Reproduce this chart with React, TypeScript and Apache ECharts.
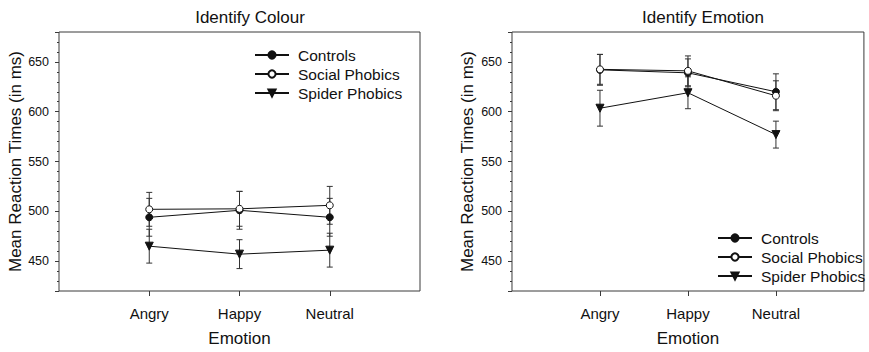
import React, { useEffect, useRef } from "react";
import * as echarts from "echarts";

const emotions = ["Angry", "Happy", "Neutral"];
const groups = ["Controls", "Social Phobics", "Spider Phobics"];

// Identify Colour panel
const colourControls = [494, 501, 494];
const colourControlsErr = [19, 19, 19];
const colourSocial = [502, 502.5, 506];
const colourSocialErr = [17, 17.5, 19];
const colourSpider = [465, 457, 461];
const colourSpiderErr = [17, 14.5, 17];

// Identify Emotion panel
const emotionControls = [642, 639, 620];
const emotionControlsErr = [15.5, 14, 18];
const emotionSocial = [642.5, 641, 616];
const emotionSocialErr = [15, 15, 15];
const emotionSpider = [603.5, 619, 577];
const emotionSpiderErr = [18, 16, 13.5];

const yMin = 420;
const yMax = 680;

const FONT = "'Liberation Sans', Arial, Helvetica, sans-serif";
const INK = "#111";
const AXIS = "#3a3a3a";

const symbols = ["circle", "circle", "path://M0,0 L10,0 L5,9 Z"];
const symbolSizes = [7, 7, 8];

export default function App() {
  const ref = useRef<HTMLDivElement>(null);

  useEffect(() => {
    if (!ref.current) return;
    const chart = echarts.init(ref.current, null, { renderer: "svg" });

    const xData = ["", ...emotions, " "];
    const grids = [
      { left: 59, top: 32, width: 361, height: 265 },
      { left: 512, top: 32, width: 360, height: 265 },
    ];

    const panelData = [
      [
        [colourControls, colourControlsErr],
        [colourSocial, colourSocialErr],
        [colourSpider, colourSpiderErr],
      ],
      [
        [emotionControls, emotionControlsErr],
        [emotionSocial, emotionSocialErr],
        [emotionSpider, emotionSpiderErr],
      ],
    ];

    const xAxes: any[] = [];
    const yAxes: any[] = [];
    const series: any[] = [];

    grids.forEach((_, gi) => {
      xAxes.push({
        type: "category",
        gridIndex: gi,
        data: xData,
        boundaryGap: false,
        name: "Emotion",
        nameLocation: "middle",
        nameGap: 39,
        nameTextStyle: { fontFamily: FONT, fontSize: 17, color: INK },
        axisLine: { show: false },
        axisTick: {
          show: true,
          length: 5,
          interval: (idx: number) => idx >= 1 && idx <= 3,
          lineStyle: { color: AXIS },
        },
        axisLabel: {
          interval: 0,
          margin: 15,
          fontFamily: FONT,
          fontSize: 15,
          color: INK,
        },
        splitLine: { show: false },
      });
      // major y axis
      yAxes.push({
        type: "value",
        gridIndex: gi,
        position: "left",
        min: yMin,
        max: yMax,
        splitNumber: 5,
        name: "Mean Reaction Times (in ms)",
        nameLocation: "middle",
        nameGap: gi === 0 ? 35 : 36,
        nameTextStyle: { fontFamily: FONT, fontSize: 17, color: INK },
        axisLine: { show: false },
        axisTick: { show: true, length: 4, lineStyle: { color: AXIS } },
        axisLabel: {
          margin: 10,
          fontFamily: FONT,
          fontSize: 12.5,
          color: INK,
          formatter: (v: number) => (v % 50 === 0 ? String(v) : ""),
        },
        splitLine: { show: false },
      });
      // minor y axis
      yAxes.push({
        type: "value",
        gridIndex: gi,
        position: "left",
        min: yMin,
        max: yMax,
        interval: 10,
        axisLine: { show: false },
        axisTick: { show: true, length: 2, lineStyle: { color: AXIS } },
        axisLabel: { show: false },
        splitLine: { show: false },
      });

      const yIdx = gi * 2;
      panelData[gi].forEach(([vals, errs], si) => {
        series.push({
          type: "custom",
          name: groups[si] + " error",
          xAxisIndex: gi,
          yAxisIndex: yIdx,
          z: 1,
          silent: true,
          data: vals.map((v, i) => [i + 1, v - errs[i], v + errs[i]]),
          encode: { x: 0, y: [1, 2] },
          renderItem: (params: any, api: any) => {
            const lo = api.coord([api.value(0), api.value(1)]);
            const hi = api.coord([api.value(0), api.value(2)]);
            const w = 3;
            const style = { stroke: "#333", lineWidth: 1 };
            return {
              type: "group",
              children: [
                { type: "line", shape: { x1: lo[0], y1: lo[1], x2: hi[0], y2: hi[1] }, style },
                { type: "line", shape: { x1: lo[0] - w, y1: lo[1], x2: lo[0] + w, y2: lo[1] }, style },
                { type: "line", shape: { x1: hi[0] - w, y1: hi[1], x2: hi[0] + w, y2: hi[1] }, style },
              ],
            };
          },
        });
        series.push({
          type: "line",
          name: groups[si],
          xAxisIndex: gi,
          yAxisIndex: yIdx,
          z: 3,
          data: vals.map((v, i) => [i + 1, v]),
          symbol: symbols[si],
          symbolSize: symbolSizes[si],
          showSymbol: true,
          lineStyle: { color: INK, width: 1 },
          itemStyle: {
            color: si === 1 ? "#fff" : INK,
            borderColor: INK,
            borderWidth: 1,
          },
        });
      });
    });

    const legendCommon = {
      orient: "vertical",
      data: groups,
      padding: 0,
      itemWidth: 34,
      itemHeight: 9,
      itemGap: 3,
      selectedMode: false,
      textStyle: { fontFamily: FONT, fontSize: 15.5, color: INK, padding: [0, 0, 0, 4] },
    };

    chart.setOption({
      animation: false,
      backgroundColor: "#fff",
      title: [
        {
          text: "Identify Colour",
          left: 245,
          top: 4,
          textAlign: "center",
          textStyle: { fontFamily: FONT, fontSize: 17, fontWeight: "normal", color: INK },
        },
        {
          text: "Identify Emotion",
          left: 698,
          top: 4,
          textAlign: "center",
          textStyle: { fontFamily: FONT, fontSize: 17, fontWeight: "normal", color: INK },
        },
      ],
      legend: [
        { ...legendCommon, left: 254, top: 47 },
        { ...legendCommon, left: 717, top: 230 },
      ],
      grid: grids.map((g) => ({
        ...g,
        show: true,
        borderColor: AXIS,
        borderWidth: 1,
        backgroundColor: "transparent",
        containLabel: false,
      })),
      xAxis: xAxes,
      yAxis: yAxes,
      series,
    });

    return () => chart.dispose();
  }, []);

  return (
    <div
      ref={ref}
      style={{ position: "fixed", left: 0, top: 0, width: 869, height: 352 }}
    />
  );
}
